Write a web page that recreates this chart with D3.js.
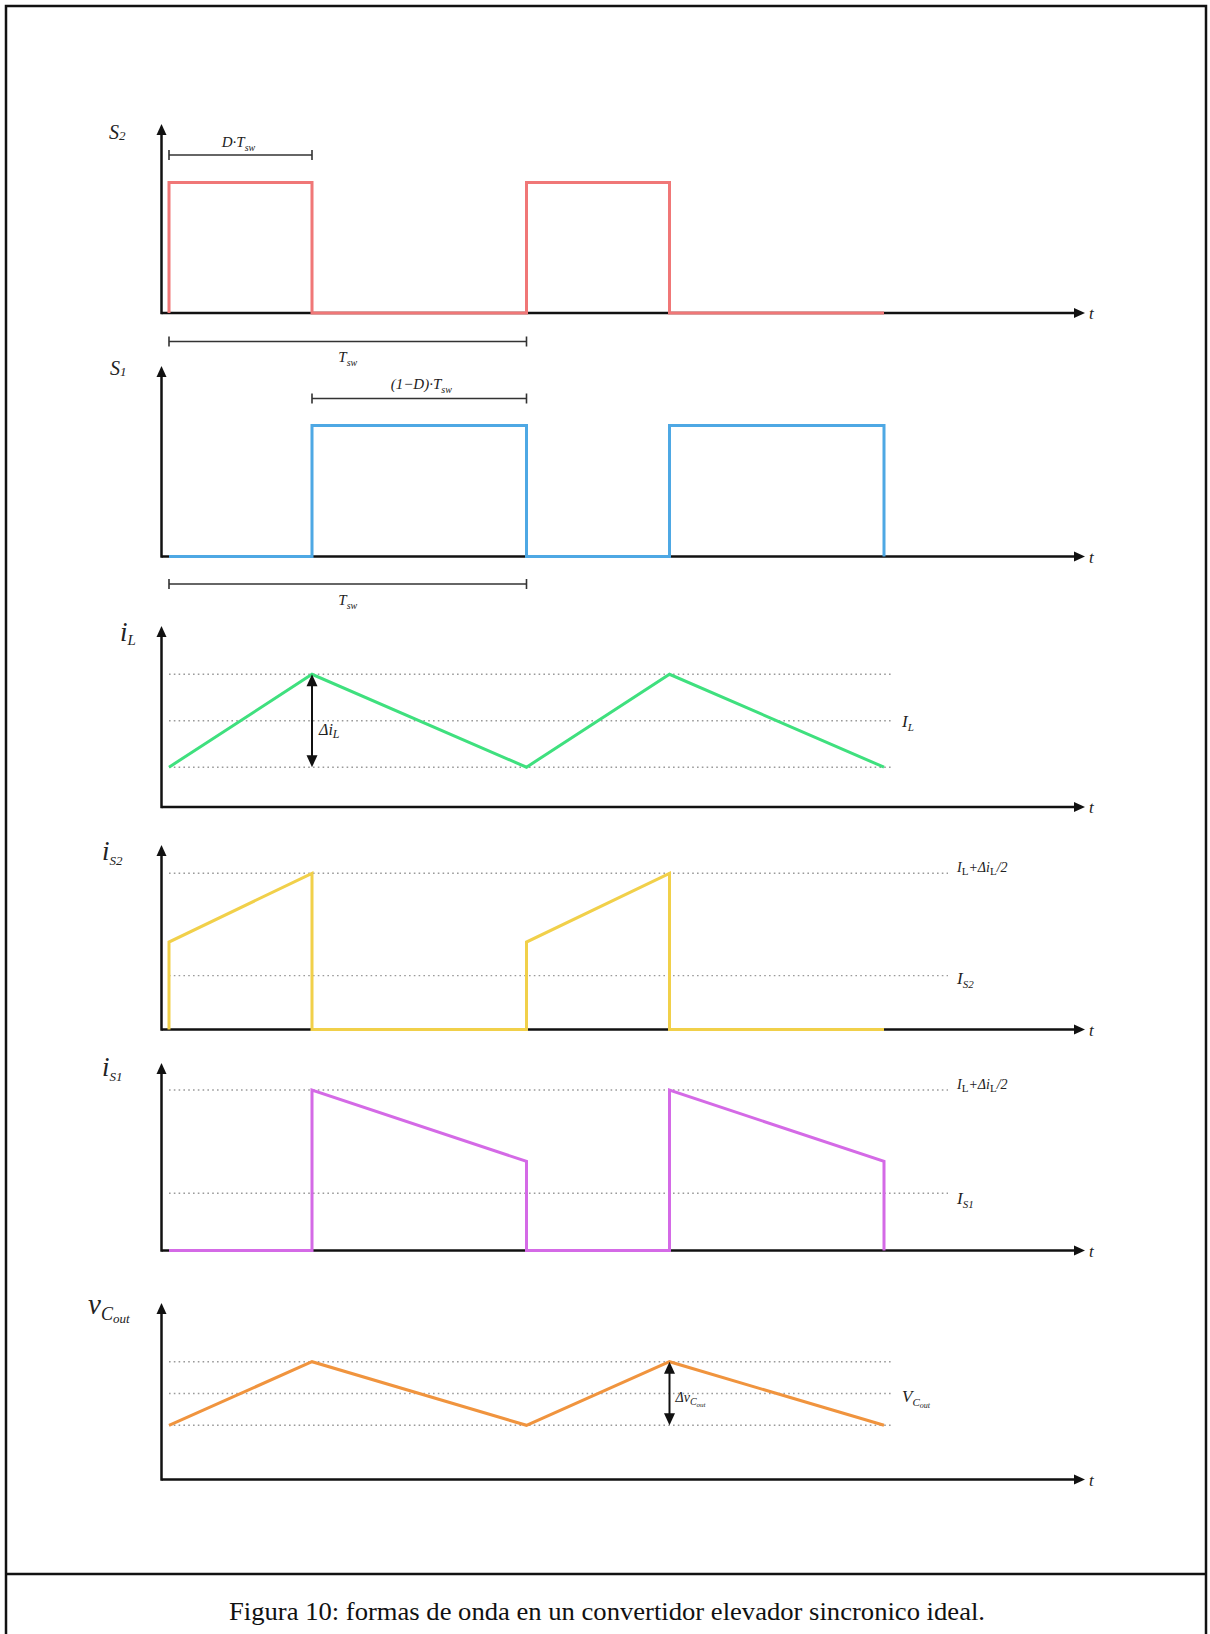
<!DOCTYPE html>
<html>
<head>
<meta charset="utf-8">
<script src="https://cdn.jsdelivr.net/npm/d3@7"></script>
<style>
  html, body { margin: 0; padding: 0; background: #fff; }
  svg { display: block; }
  text { font-family: "Liberation Serif", "DejaVu Serif", serif; fill: #222; }
</style>
</head>
<body>
<svg id="fig" width="1210" height="1634"></svg>
<script>
// ---- Waveform data (time in units of the switching period Tsw, D = 0.4) ----
const duty = 0.4;
const tEdges = [0, 0.4, 1, 1.4, 2];

// gate signals (0 = off, 1 = on)
const s2Time = [0, 0, 0.4, 0.4, 1, 1, 1.4, 1.4, 2];
const s2Val  = [0, 1, 1,   0,   0, 1, 1,   0,   0];
const s1Time = [0, 0.4, 0.4, 1, 1, 1.4, 1.4, 2, 2];
const s1Val  = [0, 0,   1,   1, 0, 0,   1,   1, 0];

// inductor current (normalised to its peak)
const iLTime = [0, 0.4, 1, 1.4, 2];
const iLVal  = [0.30, 1, 0.30, 1, 0.30];
const iLLevels = [1, 0.65, 0.30];

// low-side switch current
const iS2Time = [0, 0, 0.4, 0.4, 1, 1, 1.4, 1.4, 2];
const iS2Val  = [0, 0.56, 1, 0, 0, 0.56, 1, 0, 0];
const iS2Levels = [1, 0.345];

// high-side switch current
const iS1Time = [0, 0.4, 0.4, 1, 1, 1.4, 1.4, 2, 2];
const iS1Val  = [0, 0, 1, 0.555, 0, 0, 1, 0.555, 0];
const iS1Levels = [1, 0.357];

// output capacitor voltage
const vCTime = [0, 0.4, 1, 1.4, 2];
const vCVal  = [0.46, 1, 0.46, 1, 0.46];
const vCLevels = [1, 0.73, 0.46];

const caption = "Figura 10: formas de onda en un convertidor elevador sincronico ideal.";

// ---- Layout ----
const svg = d3.select("#fig");
const W = 1210, H = 1634;
const x = d3.scaleLinear().domain([0, 2]).range([169, 884]);
const axisX0 = 161.5, axisX1 = 1085;

const colors = {
  s2: "#f07777", s1: "#4ea8e4", iL: "#3fe07e",
  iS2: "#f1d04a", iS1: "#d46ae6", vC: "#f0943e"
};

// frame and caption divider
const frame = svg.append("g").attr("fill", "none").attr("stroke", "#111").attr("stroke-width", 2.5);
frame.append("path").attr("d", `M6,${H + 5} V6 H1206 V${H + 5}`);
frame.append("line").attr("x1", 6).attr("x2", 1206).attr("y1", 1574).attr("y2", 1574);

svg.append("text")
  .attr("x", 607).attr("y", 1620)
  .attr("text-anchor", "middle")
  .attr("textLength", 756).attr("lengthAdjust", "spacingAndGlyphs")
  .style("font-size", "25px").style("fill", "#111")
  .text(caption);

// text with optional subscripts: parts = [[string, isSub, upright], ...]
function richText(g, px, py, parts, opt) {
  const o = Object.assign({ size: 16, sub: 10, italic: true, anchor: "start", drop: 4 }, opt || {});
  const t = g.append("text")
    .attr("x", px).attr("y", py)
    .attr("text-anchor", o.anchor)
    .style("font-size", o.size + "px")
    .style("font-style", o.italic ? "italic" : "normal");
  let lowered = false;
  parts.forEach(([s, sub, upright]) => {
    const ts = t.append("tspan").text(s);
    if (sub && !lowered) { ts.attr("dy", o.drop); lowered = true; }
    else if (!sub && lowered) { ts.attr("dy", -o.drop); lowered = false; }
    ts.style("font-size", (sub ? o.sub : o.size) + "px");
    if (upright) ts.style("font-style", "normal");
  });
  return t;
}

function arrowHead(g, px, py, dir, len, half) {
  let pts;
  if (dir === "up")    pts = [[px, py], [px - half, py + len], [px + half, py + len]];
  if (dir === "down")  pts = [[px, py], [px - half, py - len], [px + half, py - len]];
  if (dir === "right") pts = [[px, py], [px - len, py - half], [px - len, py + half]];
  g.append("path").attr("d", "M" + pts.map(p => p.join(",")).join("L") + "Z").attr("fill", "#111");
}

function bracket(g, x0, x1, py) {
  const b = g.append("g").attr("stroke", "#333").attr("stroke-width", 1.6);
  b.append("line").attr("x1", x0).attr("x2", x1).attr("y1", py).attr("y2", py);
  b.append("line").attr("x1", x0).attr("x2", x0).attr("y1", py - 5).attr("y2", py + 5);
  b.append("line").attr("x1", x1).attr("x2", x1).attr("y1", py - 5).attr("y2", py + 5);
}

function panel(cfg) {
  const g = svg.append("g");
  const y = d3.scaleLinear().domain([0, 1]).range([cfg.base, cfg.top]);

  // reference levels
  (cfg.levels || []).forEach(v => {
    g.append("line")
      .attr("x1", x(0)).attr("x2", cfg.levelEnd)
      .attr("y1", y(v)).attr("y2", y(v))
      .attr("stroke", "#9a9a9a").attr("stroke-width", 1.4)
      .attr("stroke-dasharray", "1.6,3.2");
  });

  // axes
  const ax = g.append("g").attr("stroke", "#111").attr("stroke-width", 2.5);
  ax.append("line").attr("x1", axisX0).attr("x2", axisX1 - 8).attr("y1", cfg.base).attr("y2", cfg.base);
  ax.append("line").attr("x1", axisX0).attr("x2", axisX0).attr("y1", cfg.base + 1.2).attr("y2", cfg.arrowTop + 8);
  arrowHead(g, axisX1, cfg.base, "right", 11, 5);
  arrowHead(g, axisX0, cfg.arrowTop, "up", 11, 5);
  richText(g, axisX1 + 4, cfg.base + 6, [["t"]], { size: 17 });

  // waveform
  const line = d3.line().x(d => x(d[0])).y(d => y(d[1]));
  const pts = cfg.time.map((t, i) => [t, cfg.val[i]]);
  g.append("path").attr("d", line(pts))
    .attr("fill", "none").attr("stroke", cfg.color)
    .attr("stroke-width", 3).attr("stroke-linejoin", "miter");

  return { g, y };
}

// S2 gate signal
const pS2 = panel({ base: 313, top: 182.5, arrowTop: 124, time: s2Time, val: s2Val, color: colors.s2 });
richText(pS2.g, 109, 139, [["S"], ["2", true]], { size: 20, sub: 13, drop: 1 });
bracket(pS2.g, x(0), x(duty), 155);
richText(pS2.g, x(duty / 2) - 2, 147, [["D·T"], ["sw", true]], { size: 15, sub: 10, anchor: "middle", drop: 4 });
bracket(pS2.g, x(0), x(1), 341.5);
richText(pS2.g, x(0.5), 362, [["T"], ["sw", true]], { size: 15, sub: 10, anchor: "middle" });

// S1 gate signal
const pS1 = panel({ base: 556.5, top: 425.5, arrowTop: 366, time: s1Time, val: s1Val, color: colors.s1 });
richText(pS1.g, 110, 375, [["S"], ["1", true]], { size: 20, sub: 13, drop: 1 });
bracket(pS1.g, x(duty), x(1), 398.5);
richText(pS1.g, x((duty + 1) / 2) + 2, 389, [["(1−D)·T"], ["sw", true]], { size: 15, sub: 10, anchor: "middle" });
bracket(pS1.g, x(0), x(1), 584);
richText(pS1.g, x(0.5), 605, [["T"], ["sw", true]], { size: 15, sub: 10, anchor: "middle" });

// inductor current
const pIL = panel({ base: 807, top: 674.3, arrowTop: 626, time: iLTime, val: iLVal, color: colors.iL,
  levels: iLLevels, levelEnd: 891 });
richText(pIL.g, 120, 641, [["i"], ["L", true]], { size: 27, sub: 15, drop: 4 });
{
  const ax = x(tEdges[1]), yTop = pIL.y(iLLevels[0]), yBot = pIL.y(iLLevels[2]);
  pIL.g.append("line").attr("x1", ax).attr("x2", ax).attr("y1", yTop + 8).attr("y2", yBot - 8)
    .attr("stroke", "#111").attr("stroke-width", 2);
  arrowHead(pIL.g, ax, yTop, "up", 12, 5.5);
  arrowHead(pIL.g, ax, yBot, "down", 12, 5.5);
  richText(pIL.g, ax + 7, pIL.y(iLLevels[1]) + 14, [["Δi"], ["L", true]], { size: 16, sub: 12, drop: 3 });
  richText(pIL.g, 902, pIL.y(iLLevels[1]) + 6, [["I"], ["L", true]], { size: 17, sub: 11, drop: 4 });
}

// low-side switch current
const pIS2 = panel({ base: 1029.5, top: 873.3, arrowTop: 845, time: iS2Time, val: iS2Val, color: colors.iS2,
  levels: iS2Levels, levelEnd: 948 });
richText(pIS2.g, 102, 860, [["i"], ["S2", true]], { size: 27, sub: 13, drop: 5 });
richText(pIS2.g, 957, pIS2.y(iS2Levels[0]) - 1, [["I"], ["L", true, true], ["+Δi"], ["L", true, true], ["/2"]], { size: 14, sub: 11, drop: 3 });
richText(pIS2.g, 957, pIS2.y(iS2Levels[1]) + 8, [["I"], ["S2", true]], { size: 17, sub: 11, drop: 4 });

// high-side switch current
const pIS1 = panel({ base: 1250.5, top: 1090, arrowTop: 1063, time: iS1Time, val: iS1Val, color: colors.iS1,
  levels: iS1Levels, levelEnd: 948 });
richText(pIS1.g, 102, 1076, [["i"], ["S1", true]], { size: 27, sub: 13, drop: 5 });
richText(pIS1.g, 957, pIS1.y(iS1Levels[0]) - 1, [["I"], ["L", true, true], ["+Δi"], ["L", true, true], ["/2"]], { size: 14, sub: 11, drop: 3 });
richText(pIS1.g, 957, pIS1.y(iS1Levels[1]) + 11, [["I"], ["S1", true]], { size: 17, sub: 11, drop: 4 });

// output capacitor voltage
const pVC = panel({ base: 1479.5, top: 1361.7, arrowTop: 1303, time: vCTime, val: vCVal, color: colors.vC,
  levels: vCLevels, levelEnd: 891 });
richText(pVC.g, 88, 1314, [["v"], ["C", true], ["out", true]], { size: 29, sub: 18, drop: 6 })
  .select("tspan:last-child").style("font-size", "13px").attr("dy", 3);
{
  const ax = x(tEdges[3]), yTop = pVC.y(vCLevels[0]), yBot = pVC.y(vCLevels[2]);
  pVC.g.append("line").attr("x1", ax).attr("x2", ax).attr("y1", yTop + 8).attr("y2", yBot - 8)
    .attr("stroke", "#111").attr("stroke-width", 2);
  arrowHead(pVC.g, ax, yTop, "up", 12, 5.5);
  arrowHead(pVC.g, ax, yBot, "down", 12, 5.5);
  const lbl = richText(pVC.g, ax + 6, pVC.y(vCLevels[1]) + 8, [["Δv"], ["C", true], ["out", true]], { size: 14, sub: 10, drop: 3 });
  lbl.select("tspan:last-child").style("font-size", "7px").attr("dy", 2);
  const lbl2 = richText(pVC.g, 902, pVC.y(vCLevels[1]) + 8, [["V"], ["C", true], ["out", true]], { size: 17, sub: 11, drop: 4 });
  lbl2.select("tspan:last-child").style("font-size", "8px").attr("dy", 2);
}
</script>
</body>
</html>
